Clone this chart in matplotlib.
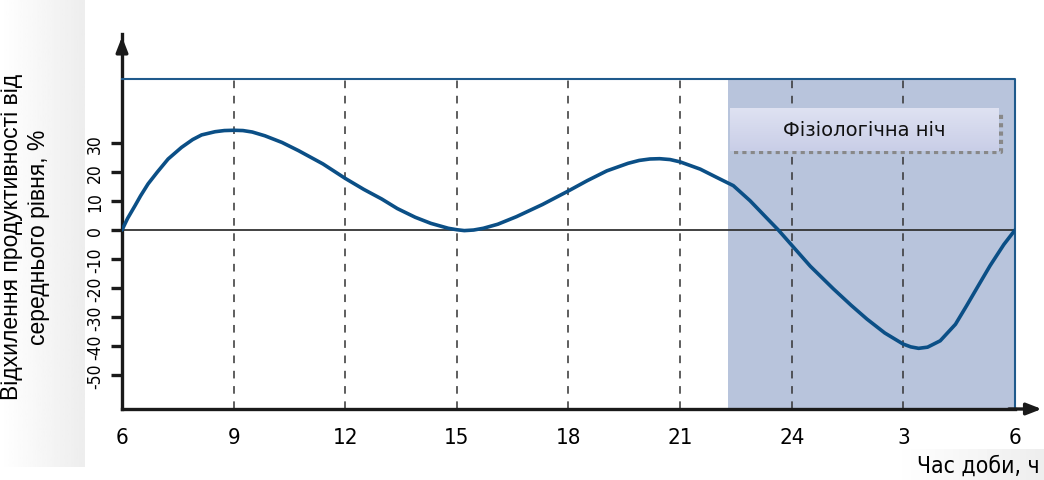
import matplotlib.pyplot as plt
import numpy as np
from matplotlib.patches import Rectangle
from matplotlib.colors import LinearSegmentedColormap

# hours of day, counted from 6 to 30 (30 = 6 next morning)
hours = [6.0, 6.15, 6.35, 6.5, 6.7, 6.95, 7.24, 7.6, 7.9, 8.14, 8.5, 8.75, 9.0, 9.25,
         9.5, 9.84, 10.3, 10.74, 11.4, 12.0, 12.5, 12.98, 13.4, 13.88, 14.3, 14.77,
         15.0, 15.2, 15.45, 15.71, 16.1, 16.6, 17.3, 18.0, 18.5, 19.03, 19.6, 19.9,
         20.19, 20.45, 20.73, 21.0, 21.54, 21.99, 22.43, 22.88, 23.3, 23.64, 23.97,
         24.5, 25.12, 25.6, 26.02, 26.5, 26.99, 27.2, 27.41, 27.65, 27.99, 28.4, 28.7,
         29.0, 29.33, 29.7, 30.0]
deviation = [0, 4.0, 8.4, 11.8, 15.9, 20.0, 24.5, 28.5, 31.2, 32.8, 33.9, 34.3, 34.4,
             34.3, 33.8, 32.5, 30.2, 27.4, 22.8, 17.8, 14.0, 10.7, 7.4, 4.4, 2.3, 0.6,
             0.1, -0.2, 0.0, 0.6, 2.0, 4.6, 8.8, 13.5, 17.0, 20.4, 23.0, 24.0,
             24.5, 24.6, 24.3, 23.5, 21.0, 18.1, 15.3, 10.1, 4.5, 0, -4.8,
             -12.5, -20.3, -26.0, -30.7, -35.5, -39.3, -40.3, -40.8, -40.4, -38.2, -32.5, -26.1,
             -19.5, -12.3, -5.0, 0]

xticks = [6, 9, 12, 15, 18, 21, 24, 27, 30]
xticklabels = ["6", "9", "12", "15", "18", "21", "24", "3", "6"]
yticks = [-50, -40, -30, -20, -10, 0, 10, 20, 30]
night_start = 22.3
night_end = 30
frame_top = 52

fig = plt.figure(figsize=(10.44, 4.81), dpi=100)

# grey gradient boxes behind the axis titles
bg = fig.add_axes([0, 0, 1, 1], zorder=-5)
grad = np.linspace(1.0, 0.93, 50).reshape(1, -1)
bg.imshow(grad, cmap="gray", vmin=0, vmax=1, extent=[0, 85, 468, 0], aspect="auto")
bg.imshow(grad, cmap="gray", vmin=0, vmax=1, extent=[893, 1044, 481, 450], aspect="auto")
bg.set_xlim(0, 1044)
bg.set_ylim(481, 0)
bg.axis("off")

ax = fig.add_axes([122 / 1044, 71 / 481, 893 / 1044, 375 / 481])
ax.set_xlim(6, 30)
ax.set_ylim(-61.72, 67.6)

# night shading and blue frame
ax.add_patch(Rectangle((night_start, -61.72), night_end - night_start, frame_top + 61.72,
                       facecolor="#b8c4dc", edgecolor="none", zorder=0))
ax.plot([6, 30, 30], [frame_top, frame_top, -61.72], color="#1f5a8c", lw=1.5, zorder=3,
        clip_on=False)

for x in xticks[1:-1]:
    ax.plot([x, x], [-61.72, frame_top], color="#333333", lw=1.1, ls=(0, (5, 5)), zorder=1)
ax.axhline(0, color="#333333", lw=1.3, zorder=2)

ax.plot(hours, deviation, color="#0b4f86", lw=2.6, zorder=4, solid_capstyle="round",
        solid_joinstyle="round")

for s in ["top", "right"]:
    ax.spines[s].set_visible(False)
for s in ["left", "bottom"]:
    ax.spines[s].set_linewidth(2.4)
    ax.spines[s].set_color("#1a1a1a")

# arrows on both axes
ax.annotate("", xy=(1.033, 0), xytext=(0.99, 0), xycoords="axes fraction",
            arrowprops=dict(arrowstyle="-|>,head_length=0.9,head_width=0.35", color="#1a1a1a", lw=2.4))
ax.annotate("", xy=(0, 1.0), xytext=(0, 0.95), xycoords="axes fraction",
            arrowprops=dict(arrowstyle="-|>,head_length=0.9,head_width=0.35", color="#1a1a1a", lw=2.4))

ax.set_xticks(xticks)
ax.set_xticklabels(xticklabels, fontsize=16, fontstretch="condensed")
ax.tick_params(axis="x", length=0, pad=13)
ax.set_yticks(yticks)
ax.set_yticklabels([str(v) for v in yticks], fontsize=12.5, fontstretch="condensed",
                   rotation=90, va="center")
ax.tick_params(axis="y", length=8, width=2.4, color="#1a1a1a", pad=5)

# label box for the night
box = fig.add_axes([730 / 1044, (481 - 152) / 481, 268 / 1044, 43 / 481], zorder=5)
lav = LinearSegmentedColormap.from_list("lav", ["#dfe2f2", "#c9cee7"])
box.imshow(np.linspace(0, 1, 50).reshape(-1, 1), cmap=lav, extent=[0, 1, 0, 1], aspect="auto")
box.set_xlim(0, 1)
box.set_ylim(0, 1)
for s in box.spines.values():
    s.set_visible(False)
box.set_xticks([])
box.set_yticks([])
box.text(0.5, 0.5, "Фізіологічна ніч", ha="center", va="center", fontsize=14,
         color="#111111")
fig.lines.append(plt.Line2D([734 / 1044, 1001 / 1044, 1001 / 1044],
                            [1 - 153 / 481, 1 - 153 / 481, 1 - 112 / 481],
                            transform=fig.transFigure, color="#888888", lw=3,
                            ls=(0, (1, 1)), zorder=4))

fig.text(25 / 1044, 1 - 237 / 481, "Відхилення продуктивності від\nсереднього рівня, %",
         rotation=90, ha="center", va="center", fontsize=16.5, linespacing=1.2,
         family=["Liberation Sans", "DejaVu Sans"])
fig.text(1040 / 1044, 1 - 466 / 481, "Час доби, ч", ha="right", va="center",
         fontsize=16.5, fontstretch="condensed")

fig.savefig("out.png", dpi=100)
